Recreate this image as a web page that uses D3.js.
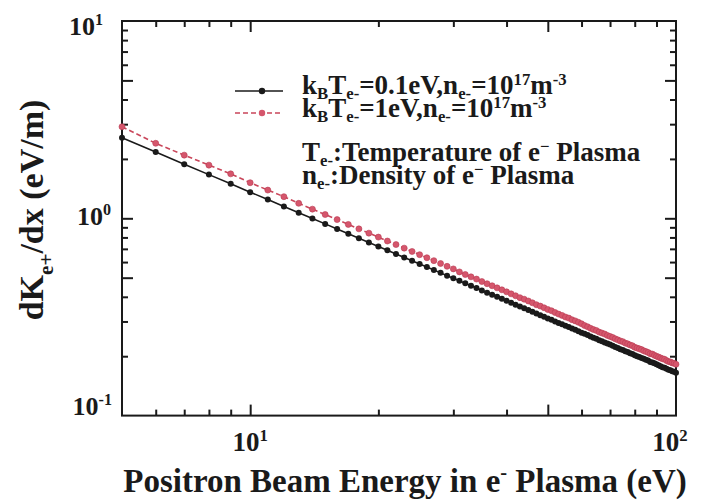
<!DOCTYPE html>
<html><head><meta charset="utf-8">
<script src="https://cdn.jsdelivr.net/npm/d3@7"></script>
<style>
body{margin:0;background:#fff}
svg{display:block}
</style>
</head><body><svg id="c" width="701" height="500"></svg>
<script>
// ---- data ----
const energy = [5,6,7,8,9,10,11,12,13,14,15,16,17,18,19,20,21,22,23,24,25,26,27,28,29,30,
  31,32,33,34,35,36,37,38,39,40,41,42,43,44,45,46,47,48,49,50,51,52,53,54,55,56,57,58,59,60,
  61,62,63,64,65,66,67,68,69,70,71,72,73,74,75,76,77,78,79,80,81,82,83,84,85,86,87,88,89,90,
  91,92,93,94,95,96,97,98,99,100];
const dKdx_01eV = [2.56,2.17,1.88,1.665,1.495,1.357,1.244,1.149,1.068,0.998,0.937,0.883,0.835,0.793,0.754,0.720,
  0.688,0.660,0.633,0.609,0.587,0.566,0.547,0.529,0.512,0.497,0.482,0.468,0.455,0.443,0.431,0.420,0.410,0.400,
  0.391,0.382,0.373,0.365,0.357,0.350,0.343,0.336,0.329,0.323,0.317,0.311,0.306,0.300,0.295,0.290,0.285,0.281,
  0.276,0.272,0.268,0.263,0.260,0.256,0.252,0.248,0.245,0.241,0.238,0.235,0.232,0.229,0.226,0.223,0.220,0.217,
  0.215,0.212,0.210,0.207,0.205,0.202,0.200,0.198,0.196,0.194,0.192,0.190,0.187,0.186,0.184,0.182,0.180,0.178,
  0.176,0.175,0.173,0.171,0.170,0.168,0.167,0.165];
const dKdx_1eV = [2.91,2.40,2.09,1.86,1.68,1.515,1.39,1.287,1.191,1.113,1.045,0.985,0.931,0.884,0.841,0.803,
  0.767,0.736,0.706,0.679,0.654,0.631,0.610,0.590,0.571,0.554,0.535,0.519,0.505,0.492,0.478,0.466,0.455,0.444,
  0.434,0.424,0.414,0.405,0.396,0.389,0.381,0.373,0.365,0.359,0.352,0.345,0.340,0.333,0.327,0.322,0.316,0.312,
  0.306,0.302,0.297,0.292,0.286,0.282,0.277,0.273,0.270,0.265,0.262,0.259,0.255,0.252,0.249,0.245,0.242,0.239,
  0.237,0.233,0.231,0.228,0.226,0.222,0.220,0.218,0.216,0.213,0.211,0.209,0.206,0.205,0.202,0.200,0.198,0.196,
  0.194,0.193,0.190,0.188,0.187,0.185,0.184,0.182];
const xTickLabels = [10, 100];
const yTickLabels = [0.1, 1, 10];
const xDomain = [5, 100];
const yDomain = [0.1, 10];

// ---- layout ----
const FONT = "'Liberation Serif', 'Times New Roman', Tinos, 'DejaVu Serif', 'Noto Serif', serif";
const svg = d3.select("#c");
const L = 122, R = 676, T = 21, B = 415.6;
const x = d3.scaleLog().domain(xDomain).range([L, R]);
const y = d3.scaleLog().domain(yDomain).range([B, T]);
const ink = "#1a1a1a";
const redLine = "#c9465a", redFill = "#d5566c";

function txt(parent) {
  return parent.append("text").attr("font-family", FONT).attr("font-weight", "bold").attr("fill", ink);
}
// rich text helper
function rich(sel, parts, size, subK = 0.28, supK = 0.38) {
  let shift = 0;
  parts.forEach(([s, kind]) => {
    const target = kind === "sub" ? size * subK : kind === "sup" ? -size * supK : 0;
    const t = sel.append("tspan").text(s).attr("dy", target - shift);
    if (kind !== "n") t.attr("font-size", size * 0.62);
    shift = target;
  });
}

// minor/major ticks
const xMinor = [], xMajor = [];
const yMinor = [], yMajor = [];
[1, 10].forEach(d => { for (let k = 1; k <= 9; k++) { const v = d * k;
  if (v <= xDomain[0] || v >= xDomain[1]) continue;
  (k === 1 || k === 5 ? xMajor : xMinor).push(v); } });
[0.1, 1].forEach(d => { for (let k = 1; k <= 9; k++) { const v = d * k;
  if (v <= yDomain[0] || v >= yDomain[1]) continue;
  (k === 1 || k === 5 ? yMajor : yMinor).push(v); } });

function tickAxis(gen, vals, len, tx, ty) {
  const g = svg.append("g").attr("transform", `translate(${tx},${ty})`)
    .call(gen.tickValues(vals).tickSize(len).tickFormat(""));
  g.select(".domain").remove();
  g.selectAll(".tick line").attr("stroke", ink).attr("stroke-width", 2);
}
tickAxis(d3.axisBottom(x), xMinor, -6, 0, B);
tickAxis(d3.axisBottom(x), xMajor, -11, 0, B);
tickAxis(d3.axisTop(x), xMinor, -6, 0, T);
tickAxis(d3.axisTop(x), xMajor, -11, 0, T);
tickAxis(d3.axisLeft(y), yMinor, -6, L, 0);
tickAxis(d3.axisLeft(y), yMajor, -11, L, 0);
tickAxis(d3.axisRight(y), yMinor, -6, R, 0);
tickAxis(d3.axisRight(y), yMajor, -11, R, 0);

// frame
svg.append("rect").attr("x", L).attr("y", T).attr("width", R - L).attr("height", B - T)
  .attr("fill", "none").attr("stroke", ink).attr("stroke-width", 2);

// series
const s1 = energy.map((e, i) => [e, dKdx_01eV[i]]);
const s2 = energy.map((e, i) => [e, dKdx_1eV[i]]);
const line = d3.line().x(d => x(d[0])).y(d => y(d[1]));
svg.append("path").attr("d", line(s1)).attr("fill", "none").attr("stroke", ink).attr("stroke-width", 1.6);
svg.append("g").selectAll("circle").data(s1).join("circle")
  .attr("cx", d => x(d[0])).attr("cy", d => y(d[1])).attr("r", 3).attr("fill", ink);
svg.append("path").attr("d", line(s2)).attr("fill", "none").attr("stroke", redLine)
  .attr("stroke-width", 1.6).attr("stroke-dasharray", "5,3");
svg.append("g").selectAll("circle").data(s2).join("circle")
  .attr("cx", d => x(d[0])).attr("cy", d => y(d[1])).attr("r", 3).attr("fill", redFill)
  .attr("stroke", "#b83a52").attr("stroke-width", 0.6);

// tick labels
const fmtExp = v => String(Math.round(Math.log10(v)));
yTickLabels.forEach(v => {
  const base = T + 14 + (y(v) - T) * 0.962;
  const t = txt(svg).attr("x", v === 0.1 ? 112 : (v === 1 ? 111 : 103)).attr("y", base)
    .attr("text-anchor", "end").attr("font-size", 26);
  rich(t, [["10", "n"], [fmtExp(v), "sup"]], 26);
});
xTickLabels.forEach(v => {
  const t = txt(svg).attr("x", Math.min(x(v), R - 6)).attr("y", 451)
    .attr("text-anchor", "middle").attr("font-size", 27);
  rich(t, [["10", "n"], [fmtExp(v), "sup"]], 27);
});

// axis titles
const xt = txt(svg).attr("x", 405).attr("y", 492).attr("text-anchor", "middle").attr("font-size", 33);
rich(xt, [["Positron Beam Energy in e", "n"], ["-", "sup"], [" Plasma (eV)", "n"]], 33);
const yt = txt(svg).attr("transform", "translate(43,210) rotate(-90)")
  .attr("text-anchor", "middle").attr("font-size", 34);
rich(yt, [["dK", "n"], ["e+", "sub"], ["/dx  (eV/m)", "n"]], 34);

// legend
const lg = svg.append("g");
lg.append("line").attr("x1", 235).attr("x2", 283).attr("y1", 91).attr("y2", 91).attr("stroke", ink).attr("stroke-width", 1.6);
lg.append("circle").attr("cx", 262).attr("cy", 91).attr("r", 3.2).attr("fill", ink);
lg.append("line").attr("x1", 235).attr("x2", 283).attr("y1", 113).attr("y2", 113).attr("stroke", redLine)
  .attr("stroke-width", 1.6).attr("stroke-dasharray", "5,3");
lg.append("circle").attr("cx", 262).attr("cy", 113).attr("r", 3.2).attr("fill", redFill);
const legendLines = [
  [["k", "n"], ["B", "sub"], ["T", "n"], ["e-", "sub"], ["=0.1eV,n", "n"], ["e-", "sub"], ["=10", "n"], ["17", "sup"], ["m", "n"], ["-3", "sup"]],
  [["k", "n"], ["B", "sub"], ["T", "n"], ["e-", "sub"], ["=1eV,n", "n"], ["e-", "sub"], ["=10", "n"], ["17", "sup"], ["m", "n"], ["-3", "sup"]],
  [["T", "n"], ["e-", "sub"], [":Temperature of e", "n"], ["\u2212", "sup"], [" Plasma", "n"]],
  [["n", "n"], ["e-", "sub"], [":Density of e", "n"], ["\u2212", "sup"], [" Plasma", "n"]]
];
const legendY = [94, 117, 161, 184];
legendLines.forEach((parts, i) => {
  const t = txt(lg).attr("x", 302).attr("y", legendY[i]).attr("font-size", 27);
  rich(t, parts, 27, 0.2, 0.32);
});
</script></body></html>
